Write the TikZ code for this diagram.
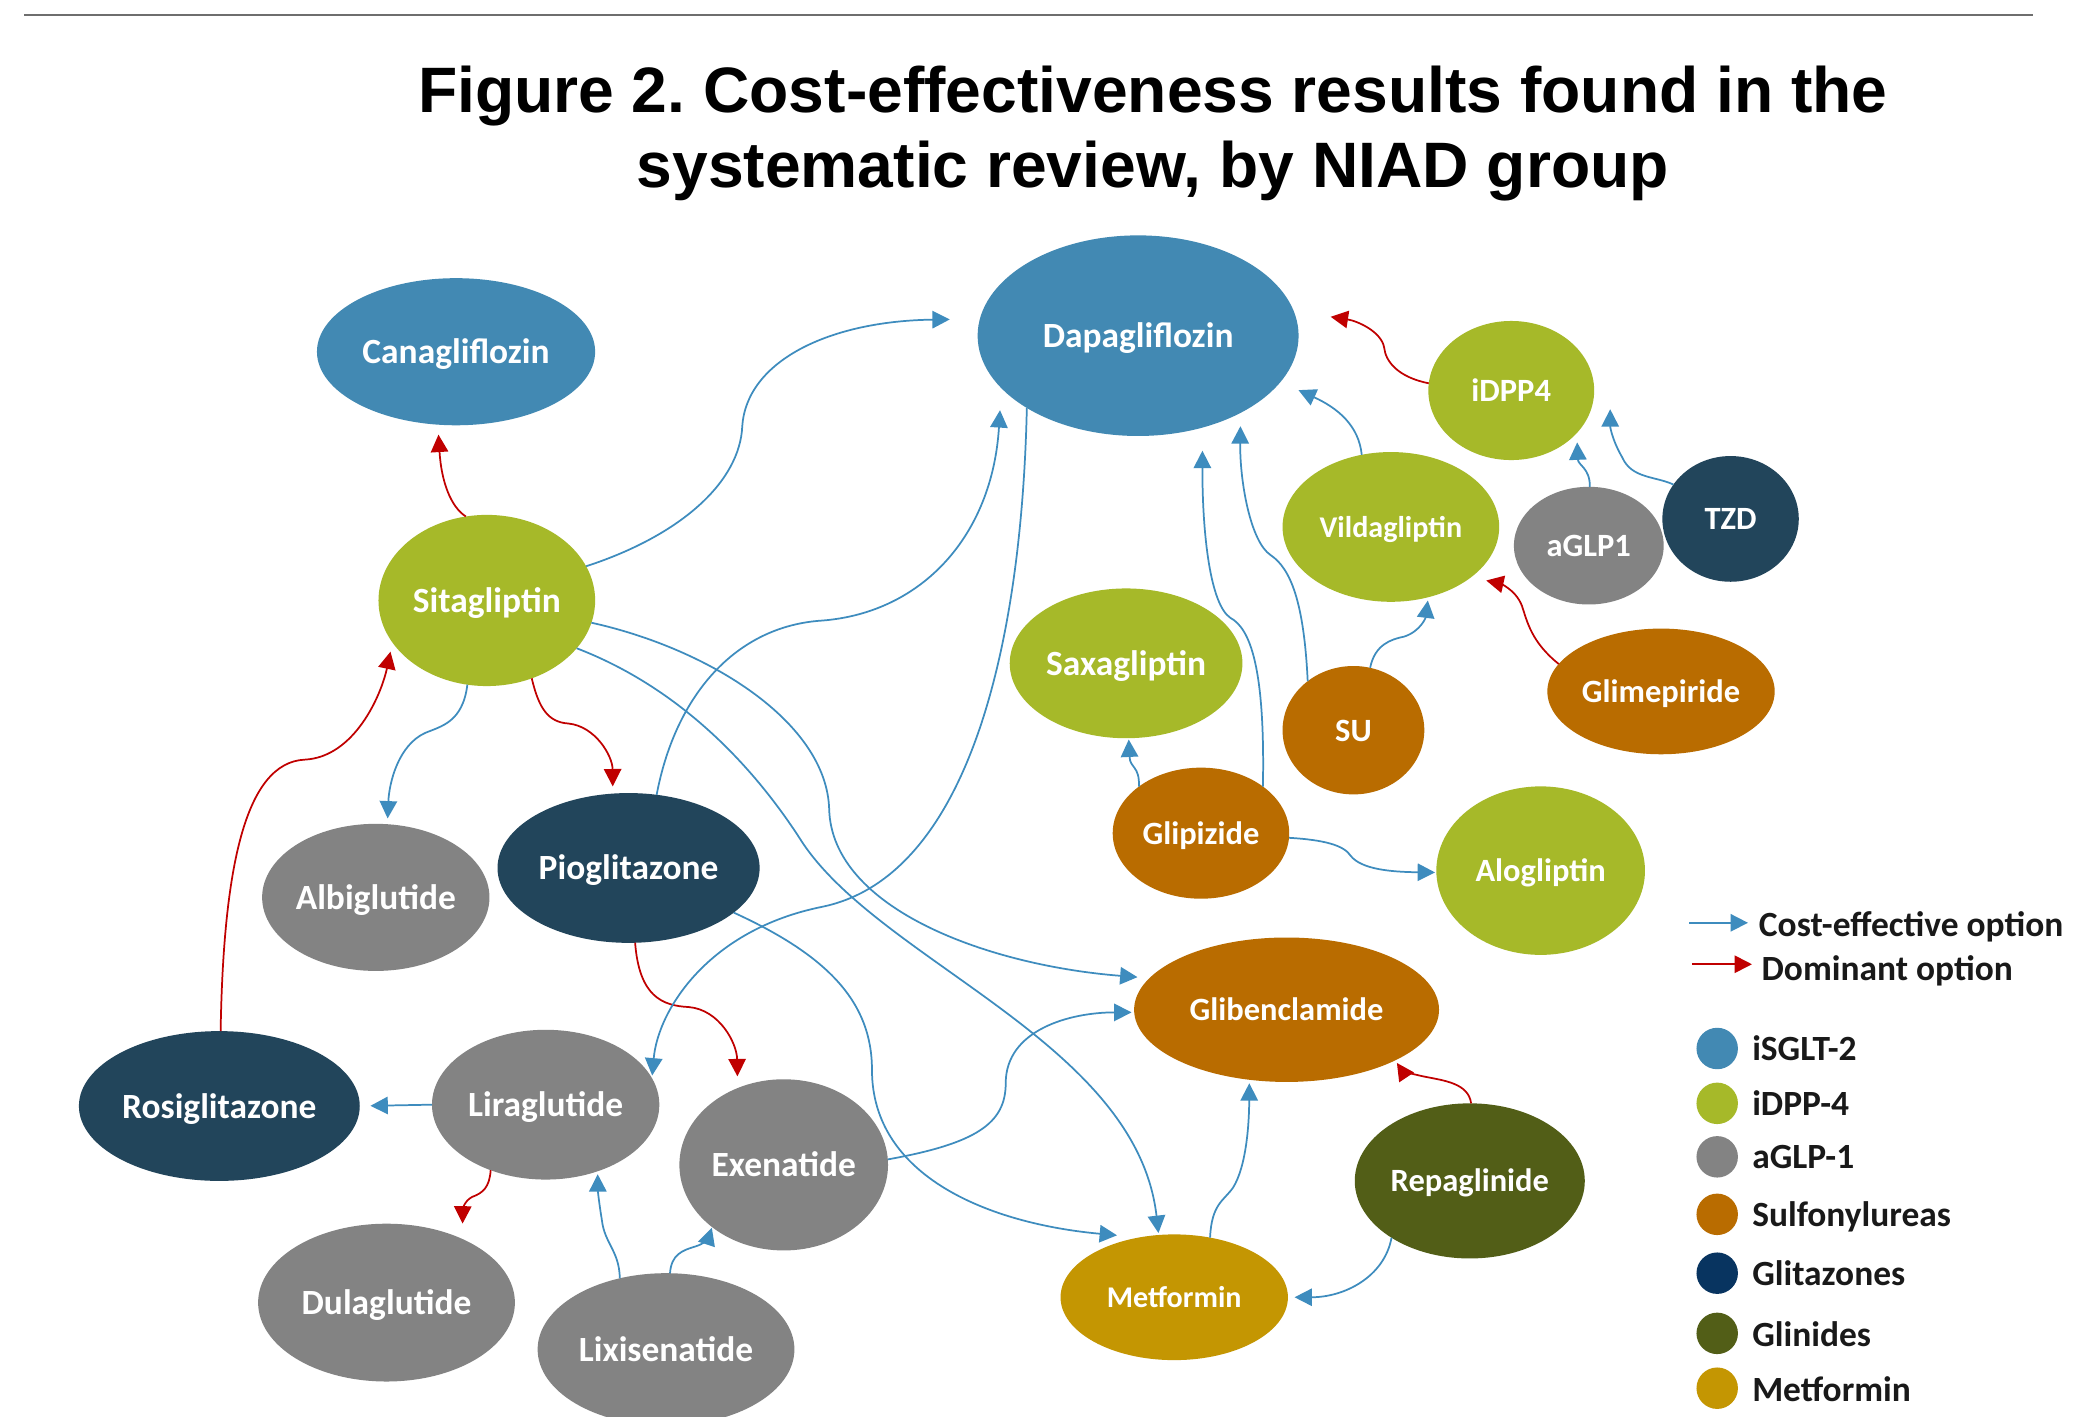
\documentclass[tikz,border=0pt]{standalone}
\usepackage{fontspec}
\setmainfont{Carlito}
\newfontfamily\headfont{Liberation Sans}
\usetikzlibrary{shapes.geometric,arrows.meta,calc}
\frenchspacing

% class colours
\definecolor{cSGLT}{RGB}{66,137,179}
\definecolor{cDPP}{RGB}{166,185,41}
\definecolor{cGLP}{RGB}{131,131,131}
\definecolor{cSU}{RGB}{185,108,0}
\definecolor{cTZD}{RGB}{34,69,91}
\definecolor{cTZDkey}{RGB}{8,52,96}
\definecolor{cGLN}{RGB}{82,94,23}
\definecolor{cMET}{RGB}{196,150,2}
% connector colours
\definecolor{cCE}{RGB}{62,140,190}
\definecolor{cDOM}{RGB}{192,0,0}
\definecolor{ruleGray}{RGB}{110,110,110}

\tikzset{
  drug/.style={ellipse, inner sep=0pt, outer sep=0pt, text=white, align=center},
  lg/.style={font=\fontsize{26.5}{30}\selectfont\bfseries, text height=25pt, text depth=7pt},
  md/.style={font=\fontsize{24.3}{28}\selectfont\bfseries, text height=23pt, text depth=6.5pt},
  sm/.style={font=\fontsize{22.5}{26}\selectfont\bfseries, text height=21.4pt, text depth=6pt},
  ce/.style={draw=cCE, line width=1.3pt, -{Triangle[length=13pt,width=13pt]}},
  dom/.style={draw=cDOM, line width=1.3pt, -{Triangle[length=13pt,width=13pt]}},
  keytext/.style={anchor=base west, font=\fontsize{26.5}{30}\selectfont\bfseries, text=black!90, inner sep=0pt},
  keydot/.style={circle, inner sep=0pt, minimum size=31pt},
  headline/.style={anchor=base, font=\headfont\bfseries\fontsize{48}{57}\selectfont, inner sep=0pt},
}

\begin{document}
\begin{tikzpicture}[x=1pt, y=-1pt]
\fill[white] (0,0) rectangle (1568,1059);
\useasboundingbox (0,0) rectangle (1568,1059);

% top rule and heading
\draw[ruleGray, line width=1.5pt] (18,11) -- (1520,11);
\node[headline] (head1) at (862,84) {Figure 2. Cost-effectiveness results found in the};
\node[headline] (head2) at (862,140) {systematic review, by NIAD group};

% drugs
\node[drug,lg,fill=cSGLT,minimum width=208pt,minimum height=110pt] (cana) at (341,263) {Canagliflozin};
\node[drug,lg,fill=cSGLT,minimum width=240pt,minimum height=150pt] (dapa) at (851,251) {Dapagliflozin};
\node[drug,md,fill=cDPP,minimum width=124pt,minimum height=104pt] (idpp) at (1130,292) {iDPP4};
\node[drug,md,fill=cTZD,minimum width=102pt,minimum height=94pt] (tzd) at (1294,388) {TZD};
\node[drug,md,fill=cGLP,minimum width=112pt,minimum height=88pt] (aglp) at (1188,408) {aGLP1};
\node[drug,sm,fill=cDPP,minimum width=162pt,minimum height=112pt] (vild) at (1040,394) {Vildagliptin};
\node[drug,lg,fill=cDPP,minimum width=162pt,minimum height=128pt] (sita) at (364,449) {Sitagliptin};
\node[drug,lg,fill=cDPP,minimum width=174pt,minimum height=112pt] (saxa) at (842,496) {Saxagliptin};
\node[drug,md,fill=cSU,minimum width=106pt,minimum height=96pt] (su) at (1012,546) {SU};
\node[drug,md,fill=cSU,minimum width=170pt,minimum height=94pt] (glim) at (1242,517) {Glimepiride};
\node[drug,md,fill=cSU,minimum width=132pt,minimum height=98pt] (glip) at (898,623) {Glipizide};
\node[drug,md,fill=cDPP,minimum width=156pt,minimum height=126pt] (alog) at (1152,651) {Alogliptin};
\node[drug,lg,fill=cGLP,minimum width=170pt,minimum height=110pt] (albi) at (281,671) {Albiglutide};
\node[drug,lg,fill=cTZD,minimum width=196pt,minimum height=112pt] (piog) at (470,649) {Pioglitazone};
\node[drug,md,fill=cSU,minimum width=228pt,minimum height=108pt] (glib) at (962,755) {Glibenclamide};
\node[drug,lg,fill=cTZD,minimum width=210pt,minimum height=112pt] (rosi) at (164,827) {Rosiglitazone};
\node[drug,lg,fill=cGLP,minimum width=170pt,minimum height=112pt] (lira) at (408,826) {Liraglutide};
\node[drug,lg,fill=cGLP,minimum width=156pt,minimum height=128pt] (exen) at (586,871) {Exenatide};
\node[drug,md,fill=cGLN,minimum width=172pt,minimum height=116pt] (repa) at (1099,883) {Repaglinide};
\node[drug,lg,fill=cGLP,minimum width=192pt,minimum height=118pt] (dula) at (289,974) {Dulaglutide};
\node[drug,lg,fill=cGLP,minimum width=192pt,minimum height=114pt] (lixi) at (498,1009) {Lixisenatide};
\node[drug,sm,fill=cMET,minimum width=170pt,minimum height=94pt] (metf) at (878,970) {Metformin};

% Sitagliptin
\draw[dom, shorten >=7.5pt] (sita.104) .. controls (337,379) and (330,360) .. (cana.256);
\draw[ce, shorten >=22.5pt] (sita.19) .. controls (510,400) and (553,360) .. (555,319) .. controls (558,270) and (620,240) .. (dapa.174);
\draw[ce, shorten >=4.3pt] (sita.257) .. controls (346,540) and (330,543) .. (318,548) .. controls (298,557) and (291,585) .. (albi.81);
\draw[dom, shorten >=5.4pt] (sita.300) .. controls (403,530) and (410,540) .. (425,541) .. controls (445,543) and (458,565) .. (piog.102);
\draw[ce, shorten >=9pt] (sita.348) .. controls (530,485) and (618,540) .. (620,605) .. controls (622,680) and (740,722) .. (glib.167);
\draw[ce, shorten >=1.5pt] (sita.332) .. controls (510,515) and (565,575) .. (600,630) .. controls (660,720) and (850,780) .. (metf.104);
\draw[dom, shorten >=7pt] (rosi.89) .. controls (167,650) and (183,570) .. (228,568) .. controls (265,566) and (285,520) .. (sita.204);

% Pioglitazone
\draw[ce, shorten >=16.5pt] (piog.69) .. controls (505,520) and (550,468) .. (615,464) .. controls (690,458) and (742,400) .. (dapa.201);
\draw[dom, shorten >=8.8pt] (piog.275) .. controls (478,745) and (495,752) .. (515,753) .. controls (538,755) and (551,780) .. (exen.121);
\draw[ce, shorten >=17pt] (piog.337) .. controls (620,715) and (652,750) .. (652,800) .. controls (652,880) and (740,915) .. (metf.120);

% Dapagliflozin
\draw[ce, shorten >=2pt] (dapa.213) .. controls (764,480) and (725,655) .. (615,678) .. controls (530,695) and (492,755) .. (lira.14);

% Exenatide, Metformin, Repaglinide
\draw[ce, shorten >=2pt] (exen.3) .. controls (730,855) and (752,840) .. (752,810) .. controls (752,770) and (800,757) .. (glib.181);
\draw[ce, shorten >=2.6pt] (metf.59) .. controls (906,900) and (915,898) .. (922,888) .. controls (932,872) and (934,840) .. (glib.242);
\draw[dom, shorten >=2.3pt] (repa.89) .. controls (1098,810) and (1080,808) .. (1065,805) .. controls (1055,803) and (1048,800) .. (glib.335);
\draw[ce, shorten >=5pt] (repa.216) .. controls (1035,955) and (1005,970) .. (metf.0);

% Glipizide
\draw[ce, shorten >=1pt] (glip.143) .. controls (852,572) and (845,575) .. (saxa.272);
\draw[ce, shorten >=17.3pt] (glip.37) .. controls (946,500) and (935,470) .. (920,462) .. controls (905,452) and (899,400) .. (dapa.305);
\draw[ce, shorten >=1pt] (glip.357) .. controls (990,628) and (1005,632) .. (1010,640) .. controls (1018,650) and (1040,652) .. (alog.181);

% SU, Vildagliptin, iDPP4, aGLP1, TZD, Glimepiride
\draw[ce, shorten >=10pt] (su.133) .. controls (975,450) and (965,425) .. (950,415) .. controls (935,405) and (927,360) .. (dapa.323);
\draw[ce, shorten >=2.5pt] (su.75) .. controls (1028,482) and (1040,478) .. (1050,476) .. controls (1062,472) and (1066,462) .. (vild.298);
\draw[ce, shorten >=14.8pt] (vild.112) .. controls (1016,318) and (1000,305) .. (dapa.342);
\draw[dom, shorten >=28pt] (idpp.175) .. controls (1045,282) and (1036,270) .. (1035,260) .. controls (1033,248) and (1015,240) .. (dapa.9);
\draw[ce, shorten >=7pt] (aglp.89) .. controls (1189,350) and (1180,348) .. (idpp.327);
\draw[ce] (tzd.149) .. controls (1238,356) and (1220,358) .. (1213,342) .. controls (1206,330) and (1204,320) .. ($(idpp.east)+(12,14)$);
\draw[dom, shorten >=11.5pt] (glim.165) .. controls (1145,480) and (1142,465) .. (1138,453) .. controls (1133,440) and (1120,436) .. (vild.328);

% Liraglutide, Lixisenatide
\draw[ce, shorten >=8pt] (lira.180) -- (rosi.0);
\draw[dom, shorten >=11.5pt] (lira.230) .. controls (366,888) and (361,892) .. (353,895) .. controls (347,898) and (346,905) .. (dula.40);
\draw[ce, shorten >=2.2pt] (lixi.123) .. controls (463,935) and (452,930) .. (450,912) .. controls (448,900) and (447,890) .. (lira.308);
\draw[ce, shorten >=0.6pt] (lixi.87) .. controls (502,938) and (510,935) .. (520,932) .. controls (527,930) and (530,925) .. (exen.221);

% key
\coordinate (kceA) at (1263,690);
\coordinate (kceB) at (1307,690);
\draw[ce] (kceA) -- (kceB);
\node[keytext] (kce) at (1315,700) {Cost-effective option};
\coordinate (kdoA) at (1265,721);
\coordinate (kdoB) at (1310,721);
\draw[dom] (kdoA) -- (kdoB);
\node[keytext] (kdo) at (1317,733) {Dominant option};

\node[keydot, fill=cSGLT] (k1) at (1284,784) {};
\node[keytext] (k1t) at (1310,793) {iSGLT-2};
\node[keydot, fill=cDPP] (k2) at (1284,825) {};
\node[keytext] (k2t) at (1310,834) {iDPP-4};
\node[keydot, fill=cGLP] (k3) at (1284,865) {};
\node[keytext] (k3t) at (1310,874) {aGLP-1};
\node[keydot, fill=cSU] (k4) at (1284,908) {};
\node[keytext] (k4t) at (1310,917) {Sulfonylureas};
\node[keydot, fill=cTZDkey] (k5) at (1284,952) {};
\node[keytext] (k5t) at (1310,961) {Glitazones};
\node[keydot, fill=cGLN] (k6) at (1284,997) {};
\node[keytext] (k6t) at (1310,1007) {Glinides};
\node[keydot, fill=cMET] (k7) at (1284,1038) {};
\node[keytext] (k7t) at (1310,1048) {Metformin};
\end{tikzpicture}
\end{document}
